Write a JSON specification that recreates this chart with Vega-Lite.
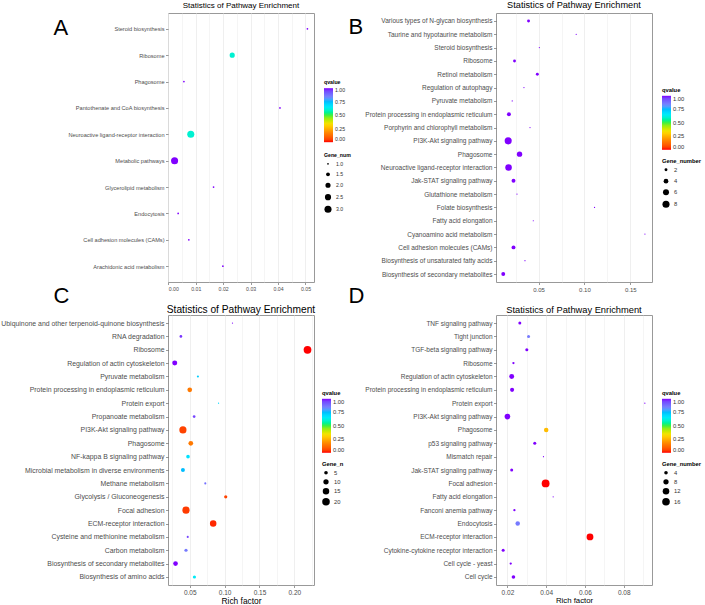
{
  "$schema": "https://vega.github.io/schema/vega-lite/v6.json",
  "background": "white",
  "padding": {"left": 0, "top": 0, "right": 0, "bottom": 0},
  "bounds": "flush",
  "columns": 2,
  "spacing": {"row": 33, "column": 182},
  "resolve": {
    "scale": {"color": "independent", "size": "independent", "x": "independent", "y": "independent"},
    "legend": {"color": "independent", "size": "independent"}
  },
  "config": {
    "font": "Liberation Sans",
    "view": {"stroke": "#999999", "strokeWidth": 1},
    "axis": {
      "gridColor": "#ebebeb", "gridWidth": 0.8, "domain": false,
      "tickColor": "#555555", "tickSize": 2.5, "tickWidth": 0.6,
      "labelColor": "#4d4d4d", "labelPadding": 1.5, "labelFont": "Liberation Sans"
    },
    "title": {"fontWeight": "normal", "color": "#000000", "anchor": "middle", "font": "Liberation Sans"},
    "legend": {
      "titleFontWeight": "bold", "titleColor": "#000000", "labelColor": "#333333",
      "titleFontSize": 5.8, "labelFontSize": 5.8, "titlePadding": 3,
      "gradientStrokeWidth": 0, "symbolStrokeWidth": 0, "symbolFillColor": "#000000",
      "symbolType": "circle", "labelOffset": 4
    }
  },
  "datasets": {
    "a": [
      {"pathway": "Steroid biosynthesis", "rich_factor": 0.0507, "qvalue": 1.0, "gene_number": 1},
      {"pathway": "Ribosome", "rich_factor": 0.0233, "qvalue": 0.6, "gene_number": 2},
      {"pathway": "Phagosome", "rich_factor": 0.0057, "qvalue": 1.0, "gene_number": 1},
      {"pathway": "Pantothenate and CoA biosynthesis", "rich_factor": 0.0407, "qvalue": 1.0, "gene_number": 1},
      {"pathway": "Neuroactive ligand-receptor interaction", "rich_factor": 0.0082, "qvalue": 0.6, "gene_number": 3},
      {"pathway": "Metabolic pathways", "rich_factor": 0.0023, "qvalue": 1.0, "gene_number": 3},
      {"pathway": "Glycerolipid metabolism", "rich_factor": 0.0165, "qvalue": 1.0, "gene_number": 1},
      {"pathway": "Endocytosis", "rich_factor": 0.0036, "qvalue": 1.0, "gene_number": 1},
      {"pathway": "Cell adhesion molecules (CAMs)", "rich_factor": 0.0075, "qvalue": 1.0, "gene_number": 1},
      {"pathway": "Arachidonic acid metabolism", "rich_factor": 0.0199, "qvalue": 1.0, "gene_number": 1}
    ],
    "b": [
      {"pathway": "Various types of N-glycan biosynthesis", "rich_factor": 0.039, "qvalue": 1.0, "gene_number": 2},
      {"pathway": "Taurine and hypotaurine metabolism", "rich_factor": 0.091, "qvalue": 1.0, "gene_number": 1},
      {"pathway": "Steroid biosynthesis", "rich_factor": 0.0508, "qvalue": 1.0, "gene_number": 1},
      {"pathway": "Ribosome", "rich_factor": 0.0237, "qvalue": 1.0, "gene_number": 2},
      {"pathway": "Retinol metabolism", "rich_factor": 0.0486, "qvalue": 1.0, "gene_number": 2},
      {"pathway": "Regulation of autophagy", "rich_factor": 0.034, "qvalue": 1.0, "gene_number": 1},
      {"pathway": "Pyruvate metabolism", "rich_factor": 0.0212, "qvalue": 1.0, "gene_number": 1},
      {"pathway": "Protein processing in endoplasmic reticulum", "rich_factor": 0.0176, "qvalue": 1.0, "gene_number": 3},
      {"pathway": "Porphyrin and chlorophyll metabolism", "rich_factor": 0.0406, "qvalue": 1.0, "gene_number": 1},
      {"pathway": "PI3K-Akt signaling pathway", "rich_factor": 0.0168, "qvalue": 1.0, "gene_number": 8},
      {"pathway": "Phagosome", "rich_factor": 0.0292, "qvalue": 1.0, "gene_number": 5},
      {"pathway": "Neuroactive ligand-receptor interaction", "rich_factor": 0.0172, "qvalue": 1.0, "gene_number": 7},
      {"pathway": "Jak-STAT signaling pathway", "rich_factor": 0.0226, "qvalue": 1.0, "gene_number": 3},
      {"pathway": "Glutathione metabolism", "rich_factor": 0.0264, "qvalue": 1.0, "gene_number": 1},
      {"pathway": "Folate biosynthesis", "rich_factor": 0.111, "qvalue": 1.0, "gene_number": 1},
      {"pathway": "Fatty acid elongation", "rich_factor": 0.0442, "qvalue": 1.0, "gene_number": 1},
      {"pathway": "Cyanoamino acid metabolism", "rich_factor": 0.166, "qvalue": 1.0, "gene_number": 1},
      {"pathway": "Cell adhesion molecules (CAMs)", "rich_factor": 0.0226, "qvalue": 1.0, "gene_number": 3},
      {"pathway": "Biosynthesis of unsaturated fatty acids", "rich_factor": 0.0351, "qvalue": 1.0, "gene_number": 1},
      {"pathway": "Biosynthesis of secondary metabolites", "rich_factor": 0.0114, "qvalue": 1.0, "gene_number": 3}
    ],
    "c": [
      {"pathway": "Ubiquinone and other terpenoid-quinone biosynthesis", "rich_factor": 0.1113, "qvalue": 1.0, "gene_number": 1},
      {"pathway": "RNA degradation", "rich_factor": 0.0373, "qvalue": 0.97, "gene_number": 3},
      {"pathway": "Ribosome", "rich_factor": 0.2189, "qvalue": 0.0, "gene_number": 21},
      {"pathway": "Regulation of actin cytoskeleton", "rich_factor": 0.0285, "qvalue": 1.0, "gene_number": 9},
      {"pathway": "Pyruvate metabolism", "rich_factor": 0.0617, "qvalue": 0.72, "gene_number": 2},
      {"pathway": "Protein processing in endoplasmic reticulum", "rich_factor": 0.05, "qvalue": 0.15, "gene_number": 8},
      {"pathway": "Protein export", "rich_factor": 0.0913, "qvalue": 0.7, "gene_number": 1},
      {"pathway": "Propanoate metabolism", "rich_factor": 0.0563, "qvalue": 0.95, "gene_number": 3},
      {"pathway": "PI3K-Akt signaling pathway", "rich_factor": 0.0402, "qvalue": 0.05, "gene_number": 18},
      {"pathway": "Phagosome", "rich_factor": 0.0515, "qvalue": 0.15, "gene_number": 8},
      {"pathway": "NF-kappa B signaling pathway", "rich_factor": 0.0475, "qvalue": 0.68, "gene_number": 5},
      {"pathway": "Microbial metabolism in diverse environments", "rich_factor": 0.0402, "qvalue": 0.75, "gene_number": 6},
      {"pathway": "Methane metabolism", "rich_factor": 0.0723, "qvalue": 0.88, "gene_number": 2},
      {"pathway": "Glycolysis / Gluconeogenesis", "rich_factor": 0.1016, "qvalue": 0.05, "gene_number": 4},
      {"pathway": "Focal adhesion", "rich_factor": 0.0446, "qvalue": 0.04, "gene_number": 18},
      {"pathway": "ECM-receptor interaction", "rich_factor": 0.0836, "qvalue": 0.02, "gene_number": 15},
      {"pathway": "Cysteine and methionine metabolism", "rich_factor": 0.0471, "qvalue": 0.95, "gene_number": 2},
      {"pathway": "Carbon metabolism", "rich_factor": 0.0446, "qvalue": 0.86, "gene_number": 4},
      {"pathway": "Biosynthesis of secondary metabolites", "rich_factor": 0.0296, "qvalue": 1.0, "gene_number": 8},
      {"pathway": "Biosynthesis of amino acids", "rich_factor": 0.0567, "qvalue": 0.65, "gene_number": 4}
    ],
    "d": [
      {"pathway": "TNF signaling pathway", "rich_factor": 0.0264, "qvalue": 1.0, "gene_number": 3},
      {"pathway": "Tight junction", "rich_factor": 0.0309, "qvalue": 0.86, "gene_number": 3},
      {"pathway": "TGF-beta signaling pathway", "rich_factor": 0.03, "qvalue": 1.0, "gene_number": 3},
      {"pathway": "Ribosome", "rich_factor": 0.0231, "qvalue": 1.0, "gene_number": 2},
      {"pathway": "Regulation of actin cytoskeleton", "rich_factor": 0.0222, "qvalue": 1.0, "gene_number": 7},
      {"pathway": "Protein processing in endoplasmic reticulum", "rich_factor": 0.0224, "qvalue": 1.0, "gene_number": 5},
      {"pathway": "Protein export", "rich_factor": 0.0909, "qvalue": 1.0, "gene_number": 1},
      {"pathway": "PI3K-Akt signaling pathway", "rich_factor": 0.02, "qvalue": 1.0, "gene_number": 9},
      {"pathway": "Phagosome", "rich_factor": 0.04, "qvalue": 0.27, "gene_number": 6},
      {"pathway": "p53 signaling pathway", "rich_factor": 0.0341, "qvalue": 1.0, "gene_number": 3},
      {"pathway": "Mismatch repair", "rich_factor": 0.0386, "qvalue": 1.0, "gene_number": 1},
      {"pathway": "Jak-STAT signaling pathway", "rich_factor": 0.0222, "qvalue": 1.0, "gene_number": 3},
      {"pathway": "Focal adhesion", "rich_factor": 0.0397, "qvalue": 0.0, "gene_number": 17},
      {"pathway": "Fatty acid elongation", "rich_factor": 0.0436, "qvalue": 1.0, "gene_number": 1},
      {"pathway": "Fanconi anemia pathway", "rich_factor": 0.0236, "qvalue": 1.0, "gene_number": 2},
      {"pathway": "Endocytosis", "rich_factor": 0.0253, "qvalue": 0.86, "gene_number": 6},
      {"pathway": "ECM-receptor interaction", "rich_factor": 0.0626, "qvalue": 0.0, "gene_number": 13},
      {"pathway": "Cytokine-cytokine receptor interaction", "rich_factor": 0.0178, "qvalue": 1.0, "gene_number": 3},
      {"pathway": "Cell cycle - yeast", "rich_factor": 0.0217, "qvalue": 1.0, "gene_number": 2},
      {"pathway": "Cell cycle", "rich_factor": 0.0231, "qvalue": 1.0, "gene_number": 4}
    ]
  },
  "concat": [
    {
      "width": 146, "height": 269,
      "title": {"text": "Statistics of Pathway Enrichment", "fontSize": 8, "offset": 4, "dy": 1},
      "data": {"name": "a"},
      "mark": {"type": "circle", "opacity": 1},
      "encoding": {
        "x": {"field": "rich_factor", "type": "quantitative",
              "scale": {"domain": [-0.0001, 0.0531], "nice": false, "zero": false},
              "axis": {"values": [0, 0.005, 0.01, 0.015, 0.02, 0.025, 0.03, 0.035, 0.04, 0.045, 0.05], "format": ".2f", "title": null, "labelFontSize": 5.2,
                       "labelExpr": "abs(datum.value*100 - round(datum.value*100)) < 0.001 ? datum.label : ''",
                       "tickOpacity": {"condition": {"test": "abs(datum.value*100 - round(datum.value*100)) > 0.001", "value": 0}, "value": 1},
                       "gridWidth": {"condition": {"test": "abs(datum.value*100 - round(datum.value*100)) > 0.001", "value": 0.5}, "value": 0.8}}},
        "y": {"field": "pathway", "type": "nominal", "sort": null,
              "scale": {"type": "point", "padding": 0.6},
              "axis": {"title": "A", "titleAngle": 0, "titleX": -115, "titleY": 21, "titleAlign": "left", "titleBaseline": "alphabetic",
                       "titleFontSize": 22, "titleFontWeight": "normal", "titleColor": "#000000", "labelFontSize": 5.6}},
        "color": {"field": "qvalue", "type": "quantitative",
                  "scale": {"domain": [0, 1], "range": ["#FF0000", "#FF8000", "#FFE000", "#40F040", "#00E8FF", "#7a86ff", "#8000FF"]},
                  "legend": {"title": "qvalue", "orient": "none", "legendX": 156, "legendY": 67, "direction": "vertical",
                             "gradientLength": 54, "gradientThickness": 9, "values": [0, 0.25, 0.5, 0.75, 1], "format": ".2f", "labelFontSize": 5.2, "titleFontSize": 5.2}},
        "size": {"field": "gene_number", "type": "quantitative",
                 "scale": {"domain": [1, 3], "range": [3, 50]},
                 "legend": {"title": "Gene_num", "orient": "none", "legendX": 156, "legendY": 140, "rowPadding": 4.5,
                            "values": [1, 1.5, 2, 2.5, 3], "format": ".1f", "labelFontSize": 5.2, "titleFontSize": 5.2}}
      }
    },
    {
      "width": 156, "height": 269,
      "title": {"text": "Statistics of Pathway Enrichment", "fontSize": 9.2, "offset": 3},
      "data": {"name": "b"},
      "mark": {"type": "circle", "opacity": 1},
      "encoding": {
        "x": {"field": "rich_factor", "type": "quantitative",
              "scale": {"domain": [0.0035, 0.1737], "nice": false, "zero": false},
              "axis": {"values": [0.025, 0.05, 0.075, 0.1, 0.125, 0.15], "format": ".2f", "title": null, "labelFontSize": 6,
                       "labelExpr": "abs(datum.value*20 - round(datum.value*20)) < 0.001 ? datum.label : ''",
                       "tickOpacity": {"condition": {"test": "abs(datum.value*20 - round(datum.value*20)) > 0.001", "value": 0}, "value": 1},
                       "gridWidth": {"condition": {"test": "abs(datum.value*20 - round(datum.value*20)) > 0.001", "value": 0.5}, "value": 0.8}}},
        "y": {"field": "pathway", "type": "nominal", "sort": null,
              "scale": {"type": "point", "padding": 0.6},
              "axis": {"title": "B", "titleAngle": 0, "titleX": -148, "titleY": 20, "titleAlign": "left", "titleBaseline": "alphabetic",
                       "titleFontSize": 22, "titleFontWeight": "normal", "titleColor": "#000000", "labelFontSize": 6.5}},
        "color": {"field": "qvalue", "type": "quantitative",
                  "scale": {"domain": [0, 1], "range": ["#FF0000", "#FF8000", "#FFE000", "#40F040", "#00E8FF", "#7a86ff", "#8000FF"]},
                  "legend": {"title": "qvalue", "orient": "none", "legendX": 166, "legendY": 74, "direction": "vertical",
                             "gradientLength": 54, "gradientThickness": 9, "values": [0, 0.25, 0.5, 0.75, 1], "format": ".2f"}},
        "size": {"field": "gene_number", "type": "quantitative",
                 "scale": {"domain": [1, 8], "range": [1.5, 50]},
                 "legend": {"title": "Gene_number", "orient": "none", "legendX": 166, "legendY": 145, "rowPadding": 4.5,
                            "values": [2, 4, 6, 8]}}
      }
    },
    {
      "width": 146, "height": 270,
      "title": {"text": "Statistics of Pathway Enrichment", "fontSize": 10.2, "offset": 4, "dy": 35},
      "data": {"name": "c"},
      "mark": {"type": "circle", "opacity": 1},
      "encoding": {
        "x": {"field": "rich_factor", "type": "quantitative",
              "scale": {"domain": [0.0188, 0.2282], "nice": false, "zero": false},
              "axis": {"values": [0.025, 0.05, 0.075, 0.1, 0.125, 0.15, 0.175, 0.2, 0.225], "format": ".2f", "title": "Rich factor", "titleFontSize": 8.4, "titleFontWeight": "normal", "titleColor": "#000000", "titlePadding": 1, "labelFontSize": 6.5,
                       "labelExpr": "abs(datum.value*20 - round(datum.value*20)) < 0.001 ? datum.label : ''",
                       "tickOpacity": {"condition": {"test": "abs(datum.value*20 - round(datum.value*20)) > 0.001", "value": 0}, "value": 1},
                       "gridWidth": {"condition": {"test": "abs(datum.value*20 - round(datum.value*20)) > 0.001", "value": 0.5}, "value": 0.8}}},
        "y": {"field": "pathway", "type": "nominal", "sort": null,
              "scale": {"type": "point", "padding": 0.6},
              "axis": {"title": "C", "titleAngle": 0, "titleX": -115, "titleY": -13, "titleAlign": "left", "titleBaseline": "alphabetic",
                       "titleFontSize": 22, "titleFontWeight": "normal", "titleColor": "#000000", "labelFontSize": 6.9}},
        "color": {"field": "qvalue", "type": "quantitative",
                  "scale": {"domain": [0, 1], "range": ["#FF0000", "#FF8000", "#FFE000", "#40F040", "#00E8FF", "#7a86ff", "#8000FF"]},
                  "legend": {"title": "qvalue", "orient": "none", "legendX": 154, "legendY": 75, "direction": "vertical",
                             "gradientLength": 54, "gradientThickness": 9, "values": [0, 0.25, 0.5, 0.75, 1], "format": ".2f"}},
        "size": {"field": "gene_number", "type": "quantitative",
                 "scale": {"domain": [1, 21], "range": [1.5, 60]},
                 "legend": {"title": "Gene_n", "orient": "none", "legendX": 154, "legendY": 146, "rowPadding": 3,
                            "values": [5, 10, 15, 20]}}
      }
    },
    {
      "width": 156, "height": 270,
      "title": {"text": "Statistics of Pathway Enrichment", "fontSize": 9.3, "offset": 4, "dy": 35},
      "data": {"name": "d"},
      "mark": {"type": "circle", "opacity": 1},
      "encoding": {
        "x": {"field": "rich_factor", "type": "quantitative",
              "scale": {"domain": [0.0141, 0.0946], "nice": false, "zero": false},
              "axis": {"values": [0.02, 0.03, 0.04, 0.05, 0.06, 0.07, 0.08, 0.09], "format": ".2f", "title": "Rich factor", "titleFontSize": 7.8, "titleFontWeight": "normal", "titleColor": "#000000", "titlePadding": 1, "labelFontSize": 6.5,
                       "labelExpr": "abs(datum.value*50 - round(datum.value*50)) < 0.001 ? datum.label : ''",
                       "tickOpacity": {"condition": {"test": "abs(datum.value*50 - round(datum.value*50)) > 0.001", "value": 0}, "value": 1},
                       "gridWidth": {"condition": {"test": "abs(datum.value*50 - round(datum.value*50)) > 0.001", "value": 0.5}, "value": 0.8}}},
        "y": {"field": "pathway", "type": "nominal", "sort": null,
              "scale": {"type": "point", "padding": 0.6},
              "axis": {"title": "D", "titleAngle": 0, "titleX": -148, "titleY": -13, "titleAlign": "left", "titleBaseline": "alphabetic",
                       "titleFontSize": 22, "titleFontWeight": "normal", "titleColor": "#000000", "labelFontSize": 6.5}},
        "color": {"field": "qvalue", "type": "quantitative",
                  "scale": {"domain": [0, 1], "range": ["#FF0000", "#FF8000", "#FFE000", "#40F040", "#00E8FF", "#7a86ff", "#8000FF"]},
                  "legend": {"title": "qvalue", "orient": "none", "legendX": 166, "legendY": 75, "direction": "vertical",
                             "gradientLength": 54, "gradientThickness": 9, "values": [0, 0.25, 0.5, 0.75, 1], "format": ".2f"}},
        "size": {"field": "gene_number", "type": "quantitative",
                 "scale": {"domain": [1, 17], "range": [1.5, 62]},
                 "legend": {"title": "Gene_number", "orient": "none", "legendX": 166, "legendY": 146, "rowPadding": 3,
                            "values": [4, 8, 12, 16]}}
      }
    }
  ]
}
